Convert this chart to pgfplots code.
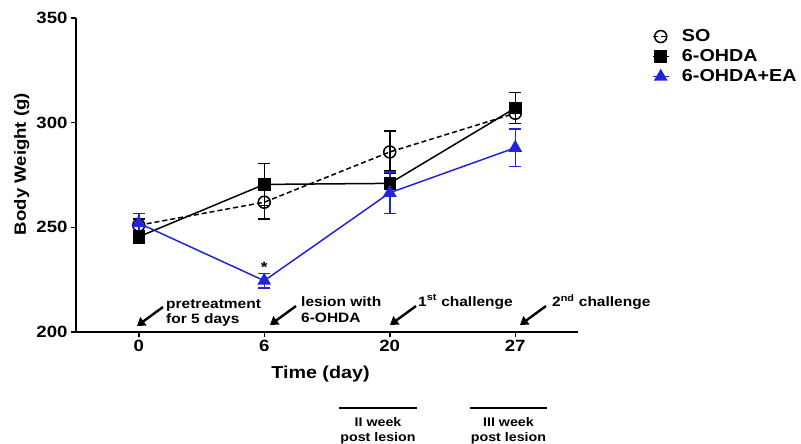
\documentclass[border=0pt]{standalone}
\usepackage{fontspec}
\setmainfont{Liberation Sans}[FakeStretch=1.14]
\usepackage{pgfplots}
\pgfplotsset{compat=1.18}
\usetikzlibrary{arrows.meta}
\definecolor{eablue}{RGB}{35,35,215}
\newcommand\fs[1]{\fontsize{#1}{#1}\selectfont\bfseries}
\begin{document}
\begin{tikzpicture}[x=1pt,y=1pt]
\path[use as bounding box] (0,0) rectangle (801,-444);
\begin{axis}[
  at={(76pt,-332pt)}, anchor=south west,
  scale only axis, width=502pt, height=314pt,
  xmin=-0.5, xmax=3.5, ymin=200, ymax=350,
  axis x line*=bottom, axis y line*=left,
  xtick={0,1,2,3}, xticklabels={0,6,20,27},
  ytick={200,250,300,350},
  tick align=outside, major tick length=5pt,
  axis line style={line width=1.8pt},
  tick style={line width=1.5pt, black},
  /pgf/number format/assume math mode=true,
  tick label style={font=\fs{16.3}},
  clip=false,
  xlabel={Time (day)},
  xlabel style={at={(axis description cs:0.487,-0.135)}, anchor=center, font=\fs{17.3}},
  ylabel={Body Weight (g)},
  ylabel style={at={(axis description cs:-0.108,0.535)}, anchor=center, font=\fs{16.3}},
  legend style={at={(1.147,0.968)}, anchor=north west, draw=none, fill=none,
    font=\fs{17.3}, row sep=3.5pt, inner sep=0pt,
    nodes={inner sep=1.5pt},
    /tikz/every odd column/.append style={column sep=11pt}},
  legend cell align=left,
  legend image code/.code={\draw[mark repeat=2,mark phase=2] plot coordinates {(0pt,0pt) (8pt,0pt) (16pt,0pt)};},
  error bars/error bar style={line width=1.5pt, solid},
]
\addplot+[black, line width=1.5pt, dash pattern=on 5pt off 3pt,
  mark=o, mark size=6pt, mark options={solid, fill=white, line width=1.5pt},
  error bars/.cd, y dir=both, y explicit,
  error mark options={rotate=90, line width=1.5pt, mark size=6pt, solid}]
  coordinates {(0,251) +- (0,3) (1,262) +- (0,8) (2,286) +- (0,10) (3,304.5) +- (0,5)};
\addlegendentry{SO}
\addplot+[black, line width=1.5pt, solid,
  mark=square*, mark size=5.5pt, mark options={solid, fill=black},
  error bars/.cd, y dir=both, y explicit,
  error mark options={rotate=90, line width=1.5pt, mark size=6pt}]
  coordinates {(0,245.5) +- (0,3) (1,270.5) +- (0,10) (2,271) +- (0,6) (3,307) +- (0,7.5)};
\addlegendentry{6-OHDA}
\addplot+[eablue, line width=1.5pt, solid,
  mark=triangle*, mark size=6.5pt, mark options={solid, fill=eablue},
  error bars/.cd, y dir=both, y explicit,
  error mark options={rotate=90, line width=1.5pt, mark size=6pt}]
  coordinates {(0,252) +- (0,4.5) (1,224.5) +- (0,3.5) (2,266.5) +- (0,10) (3,288) +- (0,9)};
\addlegendentry{6-OHDA+EA}
\node[font=\fs{15}] at (axis cs:1,231) {*};
\end{axis}
% annotations
\tikzset{ann/.style={line width=2.4pt, -{Triangle[width=10pt,length=8pt]}}}
\draw[ann] (163,-307) -- (137,-326);
\draw[ann] (296,-306) -- (270,-325);
\draw[ann] (416,-306) -- (390,-325);
\draw[ann] (546,-306) -- (520,-325);
\node[anchor=base west, inner sep=0, font=\fs{13.6}] at (166,-308) {pretreatment};
\node[anchor=base west, inner sep=0, font=\fs{13.6}] at (166,-323) {for 5 days};
\node[anchor=base west, inner sep=0, font=\fs{13.6}] at (301,-306) {lesion with};
\node[anchor=base west, inner sep=0, font=\fs{13.6}] at (301,-322.5) {6-OHDA};
\node[anchor=base west, inner sep=0, font=\fs{13.6}] at (418,-306) {1\textsuperscript{st} challenge};
\node[anchor=base west, inner sep=0, font=\fs{13.6}] at (552,-306.5) {2\textsuperscript{nd} challenge};
% bottom bars
\draw[line width=2pt] (339,-407.7) -- (417,-407.7);
\draw[line width=2pt] (470,-407.7) -- (547,-407.7);
\node[anchor=base, inner sep=0, font=\fs{12.5}] at (378,-426.7) {II week};
\node[anchor=base, inner sep=0, font=\fs{12.5}] at (378,-441.7) {post lesion};
\node[anchor=base, inner sep=0, font=\fs{12.5}] at (508.5,-426.7) {III week};
\node[anchor=base, inner sep=0, font=\fs{12.5}] at (508.5,-441.7) {post lesion};
\end{tikzpicture}
\end{document}
